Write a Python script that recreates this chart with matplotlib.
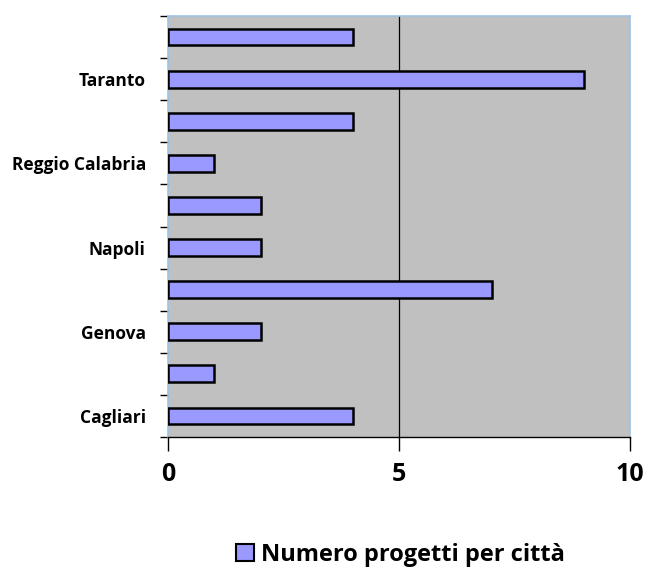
import numpy as np
import matplotlib.pyplot as plt
from matplotlib.patches import Patch

# Projects per city (bottom to top)
cities = ['Cagliari', 'Catania', 'Genova', 'Milano', 'Napoli',
          'Palermo', 'Reggio Calabria', 'Roma', 'Taranto', 'Torino']
projects = [4, 1, 2, 7, 2, 2, 1, 4, 9, 4]
series_name = 'Numero progetti per città'

plt.rcParams['font.family'] = ['Open Sans', 'DejaVu Sans']

fig = plt.figure(figsize=(6.49, 5.72), dpi=100)
ax = fig.add_axes([0.259, 0.236, 0.712, 0.736])
ax.set_facecolor('#c0c0c0')

pos = np.arange(len(cities))
ax.barh(pos, projects, height=0.4, color='#9999ff', edgecolor='black', linewidth=1.8, zorder=3)

ax.set_xlim(0, 10)
ax.set_ylim(-0.5, len(cities) - 0.5)

# only the major gridline at 5
ax.axvline(5, color='black', linewidth=0.9, zorder=1)

ax.set_xticks([0, 5, 10])
ax.set_xticklabels(['0', '5', '10'], fontsize=18, fontweight='bold')
ax.tick_params(axis='x', direction='out', length=10, width=1, pad=8)

# labels on every other category, tick marks at category boundaries
ax.set_yticks(pos)
ax.set_yticklabels([c if i % 2 == 0 else '' for i, c in enumerate(cities)],
                   fontsize=12.5, fontweight='bold')
ax.tick_params(axis='y', which='major', length=0, pad=16)
ax.set_yticks(np.arange(-0.5, len(cities)), minor=True)
ax.tick_params(axis='y', which='minor', direction='out', length=6, width=1)

for side in ['top', 'right', 'left']:
    ax.spines[side].set_color('#9dc3e6')
    ax.spines[side].set_linewidth(1.2)
ax.spines['bottom'].set_color('black')
ax.spines['bottom'].set_linewidth(1)

handle = Patch(facecolor='#9999ff', edgecolor='black', linewidth=1.5)
fig.legend([handle], [series_name], loc='center', bbox_to_anchor=(0.617, 0.03),
           frameon=False, prop={'size': 17, 'weight': 'bold'},
           handlelength=0.75, handleheight=0.75, handletextpad=0.3)

fig.savefig('out.png', dpi=100)
